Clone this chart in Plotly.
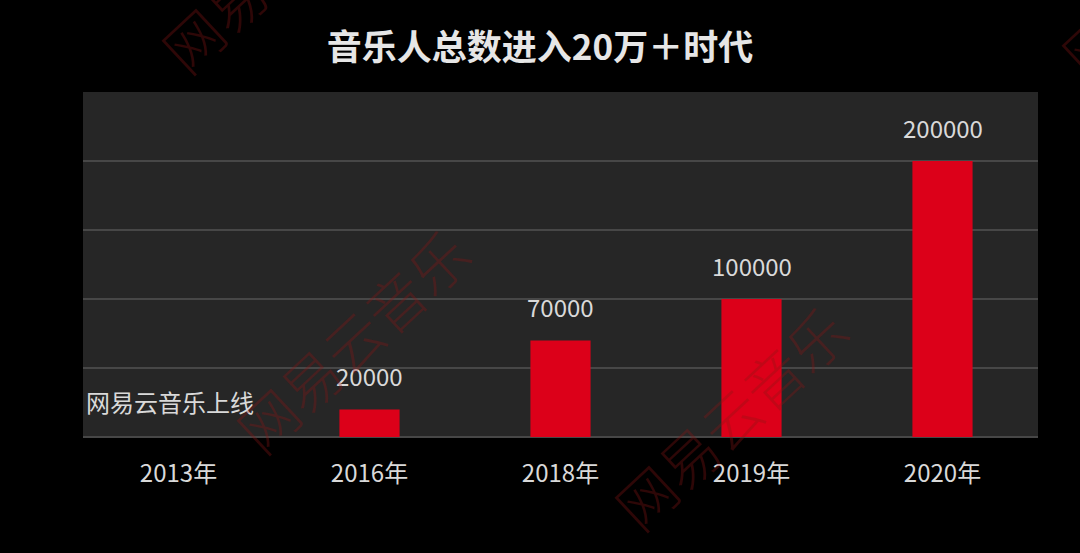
import plotly.graph_objects as go

# Data
years = ["2013年", "2016年", "2018年", "2019年", "2020年"]
musicians = [0, 20000, 70000, 100000, 200000]
labels = ["网易云音乐上线", "20000", "70000", "100000", "200000"]
title_text = "音乐人总数进入20万＋时代"
watermark_text = "网易云音乐"

W, H = 1080, 553
L, R, T, B = 83, 42, 92, 116
pw, ph = W - L - R, H - T - B

FONT = "Noto Sans CJK SC"
TXT = "#d9d9d9"

fig = go.Figure()
fig.add_trace(go.Bar(
    x=years, y=musicians,
    marker=dict(color="#dc0019", line=dict(width=0)),
    width=0.315,
    hoverinfo="skip",
))

annotations = []
for i, (yr, v, lab) in enumerate(zip(years, musicians, labels)):
    annotations.append(dict(
        x=yr, y=v, xref="x", yref="y", text=lab, showarrow=False,
        yanchor="bottom", yshift=16 if i == 0 else 14,
        xshift=-9 if i == 0 else 0,
        font=dict(family=FONT, size=24, color=TXT),
    ))

# watermarks (pixel centers converted to paper coords)
def px2paper(px, py):
    return (px - L) / pw, (H - B - py) / ph

for cx, cy in [(277, -40), (352, 340), (730, 417), (1177, -35)]:
    xp, yp = px2paper(cx, cy)
    annotations.append(dict(
        x=xp, y=yp, xref="paper", yref="paper", text=watermark_text,
        showarrow=False, textangle=-43, xanchor="center", yanchor="middle",
        font=dict(family=FONT, size=58, weight=300, color="rgba(140,20,20,0.33)"),
    ))

fig.update_layout(
    width=W, height=H,
    paper_bgcolor="#000000",
    plot_bgcolor="#262626",
    margin=dict(l=L, r=R, t=T, b=B),
    showlegend=False,
    title=dict(text="<b>" + title_text + "</b>", x=0.5, xanchor="center",
               y=1 - 48 / H, yanchor="middle",
               font=dict(family=FONT, size=35, color="#e6e6e6")),
    xaxis=dict(showgrid=False, showline=False, zeroline=False,
               ticks="", ticklabelstandoff=20,
               tickfont=dict(family=FONT, size=24, color=TXT)),
    yaxis=dict(range=[0, 250000], dtick=50000, showticklabels=False,
               showgrid=True, gridcolor="#474747", gridwidth=2,
               zeroline=True, zerolinecolor="#474747", zerolinewidth=2,
               showline=False),
    annotations=annotations,
    bargap=0.685,
)

fig.write_html("out.html", config={"displayModeBar": False},
               post_script="document.body.style.margin='0';document.body.style.background='#000';")
